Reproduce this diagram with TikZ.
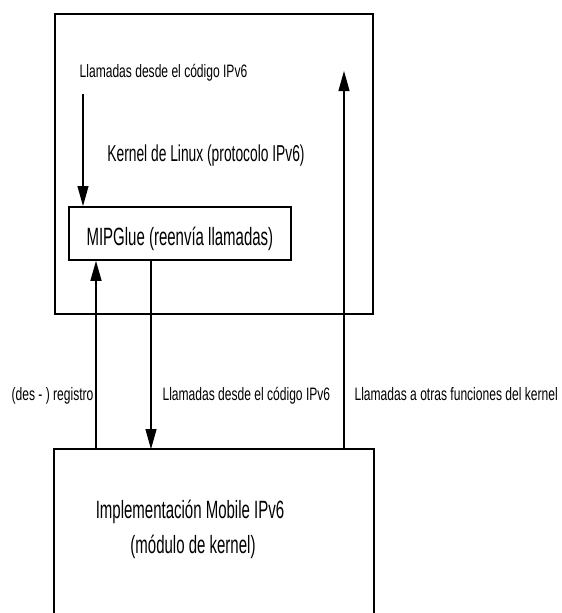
\documentclass[tikz,border=0pt]{standalone}
\usepackage{fontspec}
\setmainfont{Liberation Sans}
\newfontfamily\boxfont[FakeStretch=0.6]{Liberation Sans}
\newfontfamily\lblfont[FakeStretch=0.67]{Liberation Sans}
\usetikzlibrary{arrows.meta, positioning, calc}
\tikzset{
  every picture/.style={line width=1.2pt},
  box/.style={draw, line width=1.8pt, inner sep=0pt},
  arrow/.style={-{Triangle[length=20pt, width=11pt]}, line width=1.2pt},
  boxtext/.style={font=\boxfont\fontsize{25}{30}\selectfont, inner sep=0pt},
  lbl/.style={font=\lblfont\fontsize{18}{21}\selectfont, inner sep=0pt},
}

\begin{document}
\begin{tikzpicture}[x=1pt, y=-1pt]
  \useasboundingbox (0,0) rectangle (562,613);
  % kernel box and module box
  \node[box, minimum width=318pt, minimum height=300pt] (kernel) at (214,164) {};
  \node[box, draw=none, minimum width=318pt, minimum height=170pt] (mip6) at (214,535) {};
  \draw[line width=1.8pt] (mip6.south west) -- (mip6.north west) -- (mip6.north east) -- (mip6.south east);
  \node[box, boxtext, anchor=north west, minimum width=222pt,
        text height=39pt, text depth=14pt] (glue) at (68,206) {MIPGlue (reenvía llamadas)\hspace{13pt}};
  % texts
  \node[boxtext, font=\boxfont\fontsize{23}{28}\selectfont, anchor=base] (kerneltxt) at (206,161) {Kernel de Linux (protocolo IPv6)};
  \node[lbl, anchor=base] (calltop) at (163.5,77) {Llamadas desde el código IPv6};
  \node[boxtext, anchor=base] (mip6txt) at (190,518) {Implementación Mobile IPv6};
  \node[boxtext, anchor=base] (mip6sub) at (193,553) {(módulo de kernel)};
  % arrows
  \coordinate (gin) at ([xshift=15pt]glue.north west);
  \coordinate (greg) at ([xshift=28pt]glue.south west);
  \coordinate (gout) at ([xshift=83pt]glue.south west);
  \coordinate (kup) at (344,71);
  \draw[arrow, shorten <=13pt] (calltop.south -| gin) -- (gin);
  \draw[arrow] (greg |- mip6.north) -- node[lbl, pos=0.2565, anchor=base east, xshift=-2pt] (lblreg) {(des - ) registro} (greg);
  \draw[arrow] (gout) -- node[lbl, pos=0.743, anchor=base west, xshift=11pt] (lbldown) {Llamadas desde el código IPv6} (gout |- mip6.north);
  \draw[arrow] (kup |- mip6.north) -- node[lbl, pos=0.129, anchor=base west, xshift=10pt] (lblup) {Llamadas a otras funciones del kernel} (kup);
\end{tikzpicture}
\end{document}
